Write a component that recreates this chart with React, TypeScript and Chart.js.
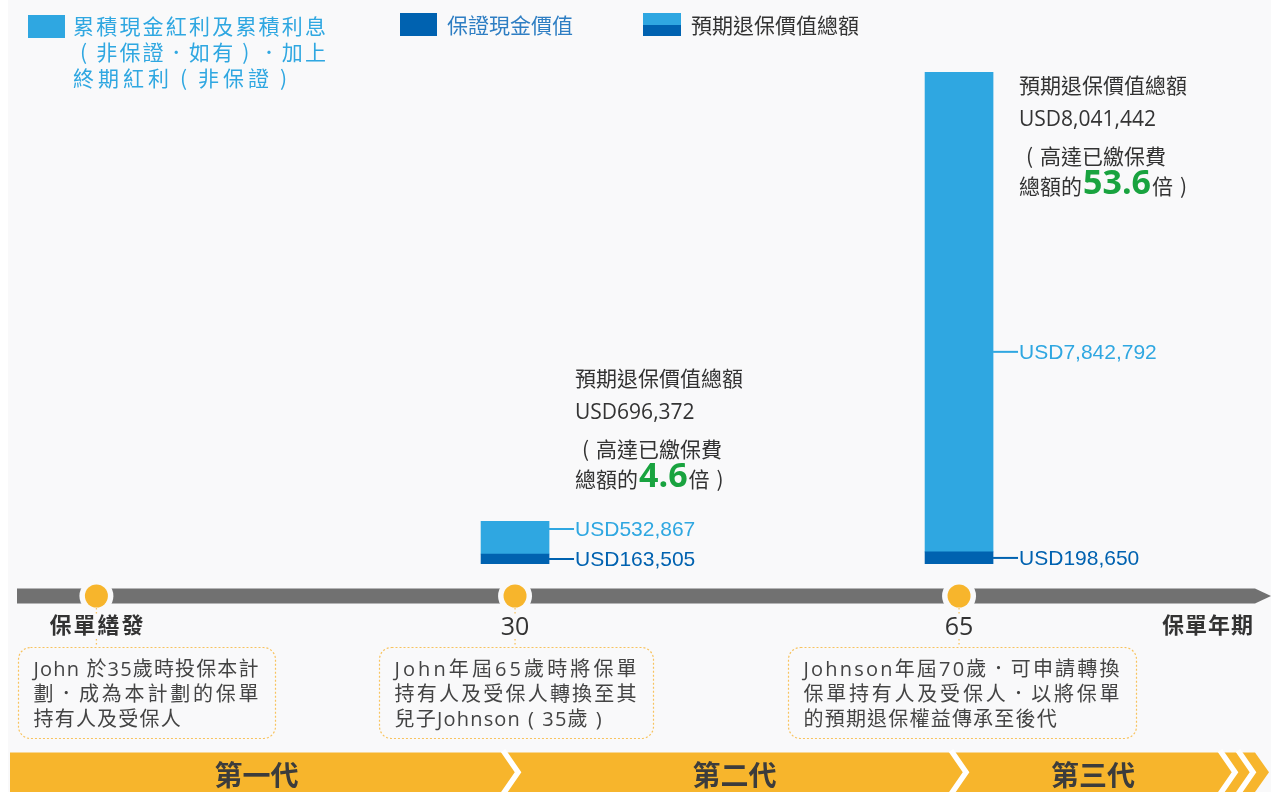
import React, { useEffect, useRef } from 'react';
import { Chart, registerables } from 'chart.js';

Chart.register(...registerables);

const W = 1271;
const H = 792;

// ---------- data ----------
const policyYears = [30, 65];
const guaranteedCashValue = [163505, 198650];
const nonGuaranteedBonus = [532867, 7842792];
const multipleOfPremium = ['4.6', '53.6'];

const milestoneYears = [-3, 30, 65];
const milestoneLabels = ['保單繕發', '30', '65'];
const axisTitle = '保單年期';
const milestoneNotes = [
  ['John 於35歲時投保本計', '劃．成為本計劃的保單', '持有人及受保人'],
  ['John年屆65歲時將保單', '持有人及受保人轉換至其', '兒子Johnson（35歲）'],
  ['Johnson年屆70歲．可申請轉換', '保單持有人及受保人．以將保單', '的預期退保權益傳承至後代'],
];
const generations = ['第一代', '第二代', '第三代'];
const legendBonus = ['累積現金紅利及累積利息', '（非保證．如有）．加上', '終期紅利（非保證）'];
const legendGuaranteed = '保證現金價值';
const legendTotal = '預期退保價值總額';
const annotationText = ['預期退保價值總額', '（高達已繳保費', '總額的', '倍）'];

const totals = guaranteedCashValue.map((v, i) => v + nonGuaranteedBonus[i]);

// ---------- styles / layout ----------
const LIGHT = '#2fa7e1';
const DARK = '#0062b0';
const ORANGE = '#f7b52c';
const GRAY = '#717171';
const BG = '#f9f9fa';
const TEXT = '#333333';
const GREEN = '#19a33f';
const CJK = '"Noto Sans CJK TC", sans-serif';
const MIX = '"Open Sans", "Noto Sans CJK TC", sans-serif';
const ARIAL = '"Liberation Sans", Arial, sans-serif';
const NOTE_BOX = [
  { left: -78, width: 257, textW: 225 },
  { left: -136, width: 274, textW: 242 },
  { left: -171, width: 348, textW: 316 },
];

const fmt = (v: number) => 'USD' + v.toLocaleString('en-US');

const PAREN: Record<string, string> = { '（': '(', '）': ')' };

function charW(ctx: CanvasRenderingContext2D, ch: string) {
  return ctx.measureText(ch).width;
}
function drawChar(ctx: CanvasRenderingContext2D, ch: string, x: number, y: number) {
  const p = PAREN[ch];
  if (p) {
    const full = ctx.measureText(ch).width;
    const half = ctx.measureText(p).width;
    ctx.fillText(p, x + (full - half) / 2, y);
  } else {
    ctx.fillText(ch, x, y);
  }
}
function spacedText(ctx: CanvasRenderingContext2D, text: string, x: number, y: number, sp: number) {
  let cx = x;
  const prevAlign = ctx.textAlign;
  ctx.textAlign = 'left';
  for (const ch of Array.from(text)) {
    drawChar(ctx, ch, cx, y);
    cx += charW(ctx, ch) + sp;
  }
  ctx.textAlign = prevAlign;
  return cx - sp;
}
function spacedWidth(ctx: CanvasRenderingContext2D, text: string, sp: number) {
  const chars = Array.from(text);
  return chars.reduce((s, c) => s + charW(ctx, c), 0) + sp * (chars.length - 1);
}
function justified(ctx: CanvasRenderingContext2D, text: string, x: number, y: number, width: number) {
  const chars = Array.from(text);
  const nat = spacedWidth(ctx, text, 0);
  const sp = chars.length > 1 ? (width - nat) / (chars.length - 1) : 0;
  spacedText(ctx, text, x, y, sp);
}
function roundRect(ctx: CanvasRenderingContext2D, x: number, y: number, w: number, h: number, r: number) {
  ctx.beginPath();
  ctx.moveTo(x + r, y);
  ctx.lineTo(x + w - r, y);
  ctx.arcTo(x + w, y, x + w, y + r, r);
  ctx.lineTo(x + w, y + h - r);
  ctx.arcTo(x + w, y + h, x + w - r, y + h, r);
  ctx.lineTo(x + r, y + h);
  ctx.arcTo(x, y + h, x, y + h - r, r);
  ctx.lineTo(x, y + r);
  ctx.arcTo(x, y, x + r, y, r);
  ctx.closePath();
}

const drawPlugin = {
  id: 'infographic',
  beforeDraw(chart: any) {
    const ctx: CanvasRenderingContext2D = chart.ctx;
    ctx.save();
    ctx.fillStyle = '#ffffff';
    ctx.fillRect(0, 0, W, H);
    ctx.fillStyle = BG;
    ctx.fillRect(8, 0, W - 8, H);
    ctx.restore();
  },
  afterDatasetsDraw(chart: any) {
    const ctx: CanvasRenderingContext2D = chart.ctx;
    const xs = chart.scales.x;
    const area = chart.chartArea;
    const base = area.bottom;
    ctx.save();
    ctx.textAlign = 'left';
    ctx.textBaseline = 'middle';

    // ----- legend -----
    ctx.fillStyle = LIGHT;
    ctx.fillRect(28, 15, 37, 23);
    ctx.font = `21px ${CJK}`;
    justified(ctx, legendBonus[0], 73, 26, 253);
    justified(ctx, legendBonus[1], 73, 52, 253);
    spacedText(ctx, legendBonus[2], 73, 78, 4);

    ctx.fillStyle = DARK;
    ctx.fillRect(400, 13, 37, 23);
    ctx.fillStyle = '#2e7ec3';
    ctx.fillText(legendGuaranteed, 447, 25);

    ctx.fillStyle = LIGHT;
    ctx.fillRect(643, 13, 38, 12);
    ctx.fillStyle = DARK;
    ctx.fillRect(643, 25, 38, 11);
    ctx.fillStyle = TEXT;
    ctx.fillText(legendTotal, 691, 25);

    // ----- bar value labels & annotations -----
    const darkMeta = chart.getDatasetMeta(0).data;
    const lightMeta = chart.getDatasetMeta(1).data;
    policyYears.forEach((_, i) => {
      const d = darkMeta[i];
      const l = lightMeta[i];
      const right = d.x + d.width / 2;
      const darkY = (d.y + d.base) / 2;
      let lightY = Math.max((l.y + l.base) / 2, l.base - 200);
      lightY = Math.min(lightY, darkY - 30);

      ctx.lineWidth = 2;
      ctx.strokeStyle = LIGHT;
      ctx.beginPath();
      ctx.moveTo(right, lightY);
      ctx.lineTo(right + 25, lightY);
      ctx.stroke();
      ctx.strokeStyle = DARK;
      ctx.beginPath();
      ctx.moveTo(right, darkY);
      ctx.lineTo(right + 25, darkY);
      ctx.stroke();

      ctx.font = `21px ${ARIAL}`;
      ctx.fillStyle = LIGHT;
      ctx.fillText(fmt(nonGuaranteedBonus[i]), right + 26, lightY + 1);
      ctx.fillStyle = DARK;
      ctx.fillText(fmt(guaranteedCashValue[i]), right + 26, darkY + 1);

      const ax = right + 26;
      const top = l.y;
      const y0 = top - 140 > area.top ? lightY - 151 : top + 13;
      ctx.fillStyle = TEXT;
      ctx.font = `21px ${CJK}`;
      spacedText(ctx, annotationText[0], ax, y0, 0);
      ctx.font = `21px ${MIX}`;
      ctx.fillText(fmt(totals[i]), ax, y0 + 35);
      ctx.font = `21px ${CJK}`;
      spacedText(ctx, annotationText[1], ax, y0 + 71, 0);
      ctx.textBaseline = 'alphabetic';
      const bl = y0 + 101 + 8;
      ctx.fillText(annotationText[2], ax, bl);
      let cx = ax + ctx.measureText(annotationText[2]).width + 1;
      ctx.font = `bold 34px ${MIX}`;
      ctx.fillStyle = GREEN;
      ctx.fillText(multipleOfPremium[i], cx, bl);
      cx += ctx.measureText(multipleOfPremium[i]).width + 1;
      ctx.font = `21px ${CJK}`;
      ctx.fillStyle = TEXT;
      spacedText(ctx, annotationText[3], cx, bl, 0);
      ctx.textBaseline = 'middle';
    });

    // ----- timeline -----
    const tlY = base + 32;
    ctx.fillStyle = GRAY;
    ctx.beginPath();
    ctx.moveTo(area.left, tlY - 7.5);
    ctx.lineTo(area.right, tlY - 7.5);
    ctx.lineTo(W, tlY);
    ctx.lineTo(area.right, tlY + 7.5);
    ctx.lineTo(area.left, tlY + 7.5);
    ctx.closePath();
    ctx.fill();

    const boxTop = base + 83;
    const boxH = 91;
    const mxs: number[] = [];
    milestoneYears.forEach((yr, i) => {
      const mx = xs.getPixelForValue(yr);
      mxs.push(mx);
      ctx.fillStyle = BG;
      ctx.beginPath();
      ctx.arc(mx, tlY, 17, 0, Math.PI * 2);
      ctx.fill();
      ctx.fillStyle = ORANGE;
      ctx.beginPath();
      ctx.arc(mx, tlY, 11.5, 0, Math.PI * 2);
      ctx.fill();

      ctx.strokeStyle = '#f8c35e';
      ctx.lineWidth = 1.3;
      ctx.setLineDash([1.5, 2.5]);
      ctx.beginPath();
      ctx.moveTo(mx, tlY + 12);
      ctx.lineTo(mx, tlY + 18);
      ctx.moveTo(mx, tlY + 43);
      ctx.lineTo(mx, boxTop);
      ctx.stroke();

      // label
      ctx.fillStyle = TEXT;
      ctx.textAlign = 'left';
      if (i === 0) {
        ctx.font = `bold 22px ${CJK}`;
        const w = spacedWidth(ctx, milestoneLabels[i], 2);
        spacedText(ctx, milestoneLabels[i], mx - w / 2, base + 61, 2);
      } else {
        ctx.font = `25px ${MIX}`;
        ctx.textAlign = 'center';
        ctx.fillText(milestoneLabels[i], mx, base + 64);
        ctx.textAlign = 'left';
      }

      // note box
      const b = NOTE_BOX[i];
      const bx = Math.round(mx + b.left) + 0.5;
      roundRect(ctx, bx, boxTop + 0.5, b.width, boxH, 12);
      ctx.strokeStyle = '#f8c35e';
      ctx.lineWidth = 1.2;
      ctx.setLineDash([2, 2]);
      ctx.stroke();
      ctx.setLineDash([]);

      ctx.fillStyle = '#444444';
      ctx.font = `20px ${MIX}`;
      const lines = milestoneNotes[i];
      lines.forEach((ln, k) => {
        const ty = boxTop + 23 + k * 25;
        if (k < lines.length - 1) justified(ctx, ln, bx + 15, ty, b.textW);
        else spacedText(ctx, ln, bx + 15, ty, 1.2);
      });
    });

    // axis title
    ctx.fillStyle = TEXT;
    ctx.font = `bold 22px ${CJK}`;
    {
      const w = spacedWidth(ctx, axisTitle, 1);
      spacedText(ctx, axisTitle, area.right - 2 - w, base + 61, 1);
    }

    // ----- generation banner -----
    const bTop = H - 39.5;
    const bMid = bTop + 19.75;
    ctx.fillStyle = ORANGE;
    ctx.beginPath();
    ctx.moveTo(10, bTop);
    ctx.lineTo(W - 16, bTop);
    ctx.lineTo(W - 2, bMid);
    ctx.lineTo(W - 16, H);
    ctx.lineTo(10, H);
    ctx.closePath();
    ctx.fill();

    const chevTops = [mxs[1] - 12, mxs[2] - 8, W - 51, W - 33];
    ctx.strokeStyle = '#ffffff';
    ctx.lineWidth = 5.5;
    ctx.lineJoin = 'miter';
    chevTops.forEach((cx0) => {
      ctx.beginPath();
      ctx.moveTo(cx0, bTop - 2);
      ctx.lineTo(cx0 + 15, bMid);
      ctx.lineTo(cx0, H + 2);
      ctx.stroke();
    });

    const bounds = [10, chevTops[0], chevTops[0] + 15, chevTops[1], chevTops[1] + 15, chevTops[2]];
    ctx.fillStyle = '#3c3c3c';
    ctx.font = `bold 28px ${CJK}`;
    ctx.textAlign = 'center';
    generations.forEach((g, i) => {
      const cx = (bounds[i * 2] + bounds[i * 2 + 1]) / 2;
      ctx.fillText(g, cx, bTop + 23);
    });

    ctx.restore();
  },
};

export default function App() {
  const ref = useRef<HTMLCanvasElement>(null);
  useEffect(() => {
    const canvas = ref.current!;
    const chart = new Chart(canvas, {
      type: 'bar',
      data: {
        datasets: [
          {
            label: legendGuaranteed,
            data: policyYears.map((x, i) => ({ x, y: guaranteedCashValue[i] })),
            backgroundColor: DARK,
            barThickness: 68,
            borderWidth: 0,
          },
          {
            label: legendBonus.join(''),
            data: policyYears.map((x, i) => ({ x, y: nonGuaranteedBonus[i] })),
            backgroundColor: LIGHT,
            barThickness: 68,
            borderWidth: 0,
          },
        ],
      },
      options: {
        responsive: false,
        animation: false,
        events: [],
        layout: { padding: { top: 72, bottom: 228, left: 17, right: 16 } },
        scales: {
          x: { type: 'linear', min: -9.26, max: 88.33, offset: false, stacked: true, display: false },
          y: { stacked: true, min: 0, max: Math.max(...totals), display: false },
        },
        plugins: { legend: { display: false }, tooltip: { enabled: false } },
      },
      plugins: [drawPlugin],
    } as any);
    return () => chart.destroy();
  }, []);
  return (
    <div style={{ position: 'fixed', left: 0, top: 0, width: W, height: H, background: '#fff' }}>
      <canvas ref={ref} width={W} height={H} style={{ display: 'block', width: W, height: H }} />
    </div>
  );
}
